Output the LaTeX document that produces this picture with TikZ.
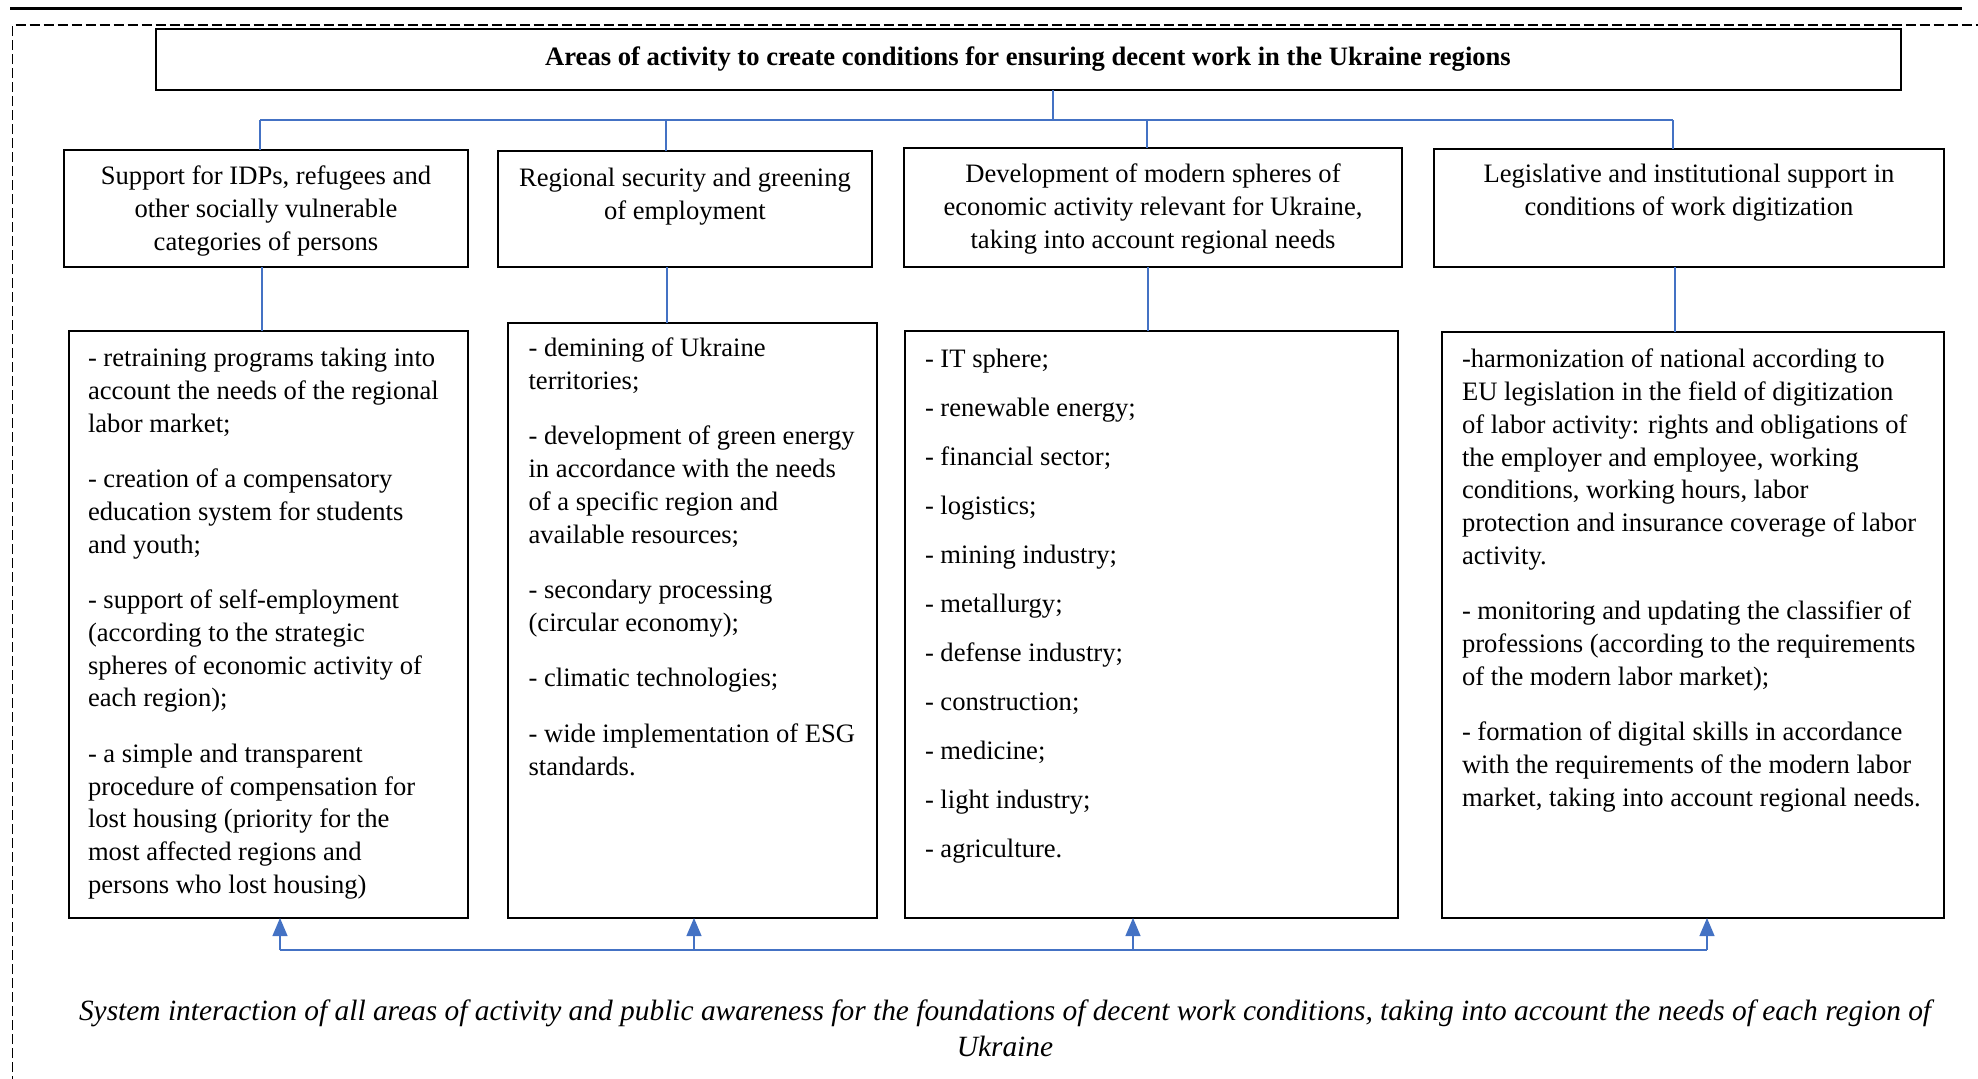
\documentclass[tikz,border=0pt]{standalone}
\usepackage{fontspec}
\setmainfont{Liberation Serif}
\usetikzlibrary{arrows.meta}
\definecolor{linkblue}{HTML}{4472C4}
\begin{document}
\begin{tikzpicture}[x=0.5pt,y=-0.5pt,
  frame/.style={draw=black,line width=0.8pt,inner sep=0pt,outer sep=0pt,anchor=north west},
  body/.style={font=\fontsize{13.3pt}{16.4pt}\selectfont,inner sep=0pt,outer sep=0pt},
  head/.style={body,align=center,anchor=base},
  list/.style={body,align=left,anchor=base west},
  link/.style={draw=linkblue,line width=0.6pt},
  bus/.style={draw=linkblue,line width=1.1pt},
  uparrow/.style={link,-{Triangle[width=7.5pt,length=9pt]}}]
\useasboundingbox (0,0) rectangle (1978,1078);
\clip (0,0) rectangle (1978,1078);

% page rule and dashed enclosure
\draw[line width=1.5pt] (10,8) -- (1962,8);
\draw[line width=0.6pt,dash pattern=on 5pt off 2pt] (12.6,1100) -- (12.6,25) -- (2000,25);

% title box
\node[frame,minimum width=872.5pt,minimum height=30.5pt] (T) at (156,29) {};
\node[body,font=\fontsize{13.3pt}{16.4pt}\selectfont\bfseries,anchor=base] (Ttext) at (1028,65.5)
  {Areas of activity to create conditions for ensuring decent work in the Ukraine regions};

% second row: areas
\node[frame,minimum width=202pt,minimum height=58.5pt] (A1) at (64,150) {};
\node[frame,minimum width=187pt,minimum height=58pt] (A2) at (498,151) {};
\node[frame,minimum width=249pt,minimum height=59.5pt] (A3) at (904,148) {};
\node[frame,minimum width=255pt,minimum height=59pt] (A4) at (1434,149) {};

% (base anchors sit on the last line of each text)
\node[head] (A1text) at (266,250.2) {Support for IDPs, refugees and\\other socially vulnerable\\categories of persons};
\node[head] (A2text) at (685,219) {Regional security and greening\\of employment};
\node[head] (A3text) at (1153,248) {Development of modern spheres of\\economic activity relevant for Ukraine,\\taking into account regional needs};
\node[head] (A4text) at (1689,215) {Legislative and institutional support in\\conditions of work digitization};

% third row: measures
\node[frame,minimum width=199.5pt,minimum height=293.5pt] (B1) at (69,331) {};
\node[frame,minimum width=184.5pt,minimum height=297.5pt] (B2) at (508,323) {};
\node[frame,minimum width=246.5pt,minimum height=293.5pt] (B3) at (905,331) {};
\node[frame,minimum width=251pt,minimum height=293pt] (B4) at (1442,332) {};

\node[list] (B1text) at (88,893.5) {- retraining programs taking into\\account the needs of the regional\\labor market;\\[11.3pt]%
- creation of a compensatory\\education system for students\\and youth;\\[11.3pt]%
- support of self-employment\\(according to the strategic\\spheres of economic activity of\\each region);\\[11.3pt]%
- a simple and transparent\\procedure of compensation for\\lost housing (priority for the\\most affected regions and\\persons who lost housing)};

\node[list] (B2text) at (528.6,775) {- demining of Ukraine\\territories;\\[11.3pt]%
- development of green energy\\in accordance with the needs\\of a specific region and\\available resources;\\[11.3pt]%
- secondary processing\\(circular economy);\\[11.3pt]%
- climatic technologies;\\[11.3pt]%
- wide implementation of ESG\\standards.};

\node[list] (B3text) at (925,857) {- IT sphere;\\[8.1pt]- renewable energy;\\[8.1pt]- financial sector;\\[8.1pt]- logistics;\\[8.1pt]%
- mining industry;\\[8.1pt]- metallurgy;\\[8.1pt]- defense industry;\\[8.1pt]- construction;\\[8.1pt]%
- medicine;\\[8.1pt]- light industry;\\[8.1pt]- agriculture.};

\node[list] (B4text) at (1462,806.5) {-harmonization of national according to\\EU legislation in the field of digitization\\of labor activity: rights and obligations of\\the employer and employee, working\\conditions, working hours, labor\\protection and insurance coverage of labor\\activity.\\[11.3pt]%
- monitoring and updating the classifier of\\professions (according to the requirements\\of the modern labor market);\\[11.3pt]%
- formation of digital skills in accordance\\with the requirements of the modern labor\\market, taking into account regional needs.};

% tree from the title box to the areas
\coordinate (top) at (1053,120);
\coordinate (c1) at (260,120);
\coordinate (c2) at (666,120);
\coordinate (c3) at (1147,120);
\coordinate (c4) at (1673,120);
\draw[link] (top |- T.south) -- (top);
\draw[bus] (c1) -- (c4);
\draw[link] (c1) -- (c1 |- A1.north);
\draw[link] (c2) -- (c2 |- A2.north);
\draw[link] (c3) -- (c3 |- A3.north);
\draw[link] (c4) -- (c4 |- A4.north);

% areas to measures
\coordinate (d1) at (262,290);
\coordinate (d2) at (667,290);
\coordinate (d3) at (1148,290);
\coordinate (d4) at (1675,290);
\draw[link] (d1 |- A1.south) -- (d1 |- B1.north);
\draw[link] (d2 |- A2.south) -- (d2 |- B2.north);
\draw[link] (d3 |- A3.south) -- (d3 |- B3.north);
\draw[link] (d4 |- A4.south) -- (d4 |- B4.north);

% feedback bus under the measures
\coordinate (e1) at (280,950);
\coordinate (e2) at (694,950);
\coordinate (e3) at (1133,950);
\coordinate (e4) at (1707,950);
\draw[bus] (e1) -- (e4);
\draw[uparrow] (e1) -- (e1 |- B1.south);
\draw[uparrow] (e2) -- (e2 |- B2.south);
\draw[uparrow] (e3) -- (e3 |- B3.south);
\draw[uparrow] (e4) -- (e4 |- B4.south);

% closing statement
\node[font=\fontsize{14.7pt}{17.6pt}\selectfont\itshape,align=center,anchor=base,inner sep=0pt] (caption) at (1005,1056)
  {System interaction of all areas of activity and public awareness for the foundations of decent work conditions, taking into account the needs of each region of\\Ukraine};
\end{tikzpicture}
\end{document}
